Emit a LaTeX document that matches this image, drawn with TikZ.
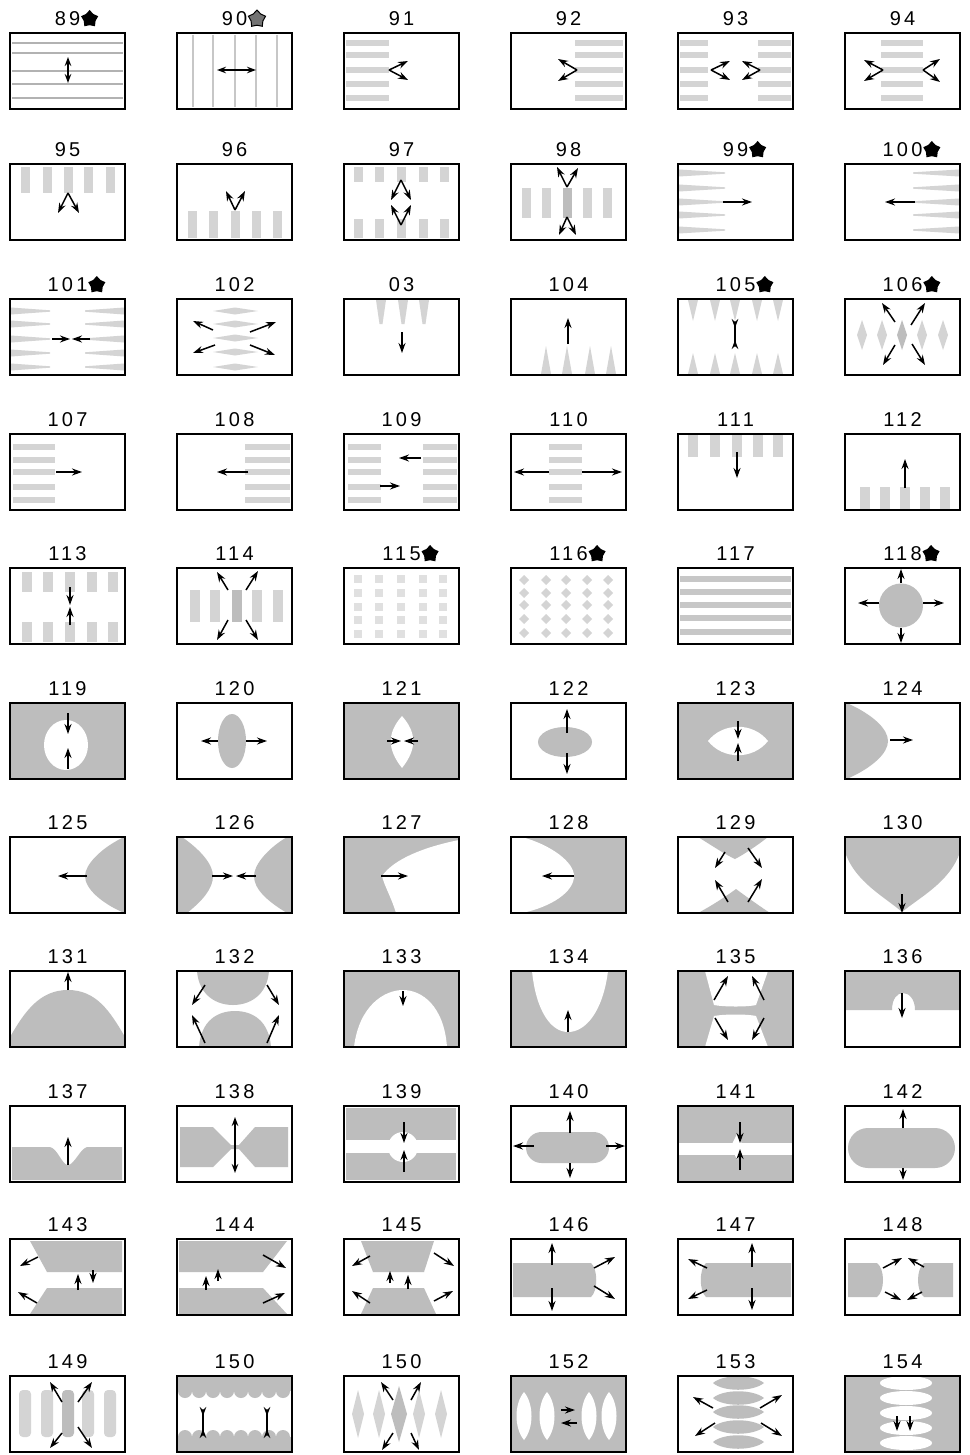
\documentclass[tikz,border=0pt]{standalone}
\usepackage{fontspec}
\newfontfamily\numfont[LetterSpace=16]{Liberation Sans}
\usetikzlibrary{arrows.meta,positioning,shapes.geometric}

\begin{document}
\begin{tikzpicture}[x=1pt,y=-1pt,
  frame/.style={draw=black,line width=1.7pt},
  shd/.style={fill=black!26},
  lite/.style={fill=black!17},
  hole/.style={fill=white},
  mv/.style={line width=1.5pt,-{Stealth[length=10pt,width=7pt]}},
  mvv/.style={line width=1.5pt,{Stealth[length=9pt,width=6.5pt]}-{Stealth[length=9pt,width=6.5pt]}},
  bow/.style={line width=1.5pt,{Stealth[length=9pt,width=6.5pt,reversed]}-{Stealth[length=9pt,width=6.5pt,reversed]}},
  numlab/.style={font=\numfont\fontsize{20}{20}\selectfont,inner sep=0pt},
  starmk/.style={star,star points=5,star point ratio=1.45,minimum size=18pt,inner sep=0pt,fill=black},
  starpat/.style={starmk,fill=black!55,draw=black,line width=1pt},
]
\useasboundingbox[fill=white] (0,0) rectangle (969,1455);

% ---- row 1
\begin{scope}[shift={(10,33)}] % 89
  \foreach \v in {10,20,38,51,65} \draw[black!30,line width=1.5pt] (2,\v) -- (113,\v);
  \draw[mvv] (58,24) -- (58,50);
\end{scope}
\begin{scope}[shift={(177,33)}] % 90
  \foreach \u in {16,36,58,79,100} \draw[black!22,line width=1.5pt] (\u,2) -- (\u,74);
  \draw[mvv] (40,37) -- (79,37);
\end{scope}
\begin{scope}[shift={(344,33)}] % 91
  \foreach \v in {10,22,37,51,65} \fill[lite] (2,\v-3) rectangle (45,\v+3);
  \draw[mv] (45,37) -- (64,28);
  \draw[mv] (45,37) -- (64,47);
\end{scope}
\begin{scope}[shift={(511,33)}] % 92
  \foreach \v in {10,22,37,51,65} \fill[lite] (64,\v-3) rectangle (112,\v+3);
  \draw[mv] (66,37) -- (47,26);
  \draw[mv] (66,37) -- (47,48);
\end{scope}
\begin{scope}[shift={(678,33)}] % 93
  \foreach \v in {10,22,37,51,65} {
    \fill[lite] (2,\v-3) rectangle (30,\v+3);
    \fill[lite] (80,\v-3) rectangle (113,\v+3);
  }
  \draw[mv] (33,37) -- (52,28);
  \draw[mv] (33,37) -- (52,47);
  \draw[mv] (82,37) -- (64,28);
  \draw[mv] (82,37) -- (64,47);
\end{scope}
\begin{scope}[shift={(845,33)}] % 94
  \foreach \v in {10,22,37,51,65} \fill[lite] (36,\v-3) rectangle (78,\v+3);
  \draw[mv] (38,37) -- (19,27);
  \draw[mv] (38,37) -- (19,48);
  \draw[mv] (78,37) -- (95,26);
  \draw[mv] (78,37) -- (95,49);
\end{scope}

% ---- row 2
\begin{scope}[shift={(10,164)}] % 95
  \foreach \u in {15,37,58,78,100} \fill[lite] (\u-4.5,3) rectangle (\u+4.5,29);
  \draw[mv] (58,29) -- (48,49);
  \draw[mv] (58,29) -- (69,49);
\end{scope}
\begin{scope}[shift={(177,164)}] % 96
  \foreach \u in {15,36,58,79,100} \fill[lite] (\u-4.5,47) rectangle (\u+4.5,74);
  \draw[mv] (58,46) -- (49,27);
  \draw[mv] (58,46) -- (68,27);
\end{scope}
\begin{scope}[shift={(344,164)}] % 97
  \foreach \u in {14,35,57,79,100} {
    \fill[lite] (\u-4.5,3) rectangle (\u+4.5,18);
    \fill[lite] (\u-4.5,55) rectangle (\u+4.5,74);
  }
  \draw[mv] (57,16) -- (47,36);
  \draw[mv] (57,16) -- (67,36);
  \draw[mv] (57,61) -- (47,41);
  \draw[mv] (57,61) -- (67,41);
\end{scope}
\begin{scope}[shift={(511,164)}] % 98
  \foreach \u in {15,35,76,96} \fill[lite] (\u-4.5,24) rectangle (\u+4.5,54);
  \fill[shd] (51.5,24) rectangle (60.5,54);
  \draw[mv] (56,23) -- (46,3);
  \draw[mv] (56,23) -- (67,4);
  \draw[mv] (56,53) -- (48,71);
  \draw[mv] (56,53) -- (65,71);
\end{scope}
\begin{scope}[shift={(678,164)}] % 99
  \foreach \v in {9,24,38,51,66} \fill[lite] (1,\v-3.5) -- (47,\v-0.7) -- (47,\v+0.7) -- (1,\v+3.5) -- cycle;
  \draw[mv] (45,38) -- (74,38);
\end{scope}
\begin{scope}[shift={(845,164)}] % 100
  \foreach \v in {9,24,38,51,66} \fill[lite] (114,\v-3.5) -- (68,\v-0.7) -- (68,\v+0.7) -- (114,\v+3.5) -- cycle;
  \draw[mv] (70,38) -- (40,38);
\end{scope}

% ---- row 3
\begin{scope}[shift={(10,299)}] % 101
  \foreach \v in {12,25,40,54,68} {
    \fill[lite] (1,\v-3.5) -- (40,\v-0.7) -- (40,\v+0.7) -- (1,\v+3.5) -- cycle;
    \fill[lite] (114,\v-3.5) -- (75,\v-0.7) -- (75,\v+0.7) -- (114,\v+3.5) -- cycle;
  }
  \draw[mv] (42,40) -- (60,40);
  \draw[mv] (80,40) -- (62,40);
\end{scope}
\begin{scope}[shift={(177,299)}] % 102
  \foreach \v in {12,25,39,53,68} \fill[lite] (36,\v) -- (58,\v-3.5) -- (81,\v) -- (58,\v+3.5) -- cycle;
  \draw[mv] (36,31) -- (16,22);
  \draw[mv] (73,33) -- (99,23);
  \draw[mv] (38,46) -- (16,54);
  \draw[mv] (73,46) -- (98,56);
\end{scope}
\begin{scope}[shift={(344,299)}] % 03
  \foreach \u in {37,59,80} \fill[lite] (\u-5,1) -- (\u+5,1) -- (\u+1.5,25) -- (\u-1.5,25) -- cycle;
  \draw[mv] (58,33) -- (58,54);
\end{scope}
\begin{scope}[shift={(511,299)}] % 104
  \foreach \u in {35,56,79,100} \fill[lite] (\u-5,75) -- (\u+5,75) -- (\u,47) -- cycle;
  \draw[mv] (57,45) -- (57,19);
\end{scope}
\begin{scope}[shift={(678,299)}] % 105
  \foreach \u in {15,37,57,79,100} {
    \fill[lite] (\u-5,1) -- (\u+5,1) -- (\u,22) -- cycle;
    \fill[lite] (\u-5,75) -- (\u+5,75) -- (\u,54) -- cycle;
  }
  \draw[bow] (57,20) -- (57,50);
\end{scope}
\begin{scope}[shift={(845,299)}] % 106
  \foreach \u in {17,37,77,98} \fill[lite] (\u,21) -- (\u+5,36) -- (\u,51) -- (\u-5,36) -- cycle;
  \fill[shd] (57,21) -- (62,36) -- (57,51) -- (52,36) -- cycle;
  \draw[mv] (50,23) -- (37,4);
  \draw[mv] (66,26) -- (80,4);
  \draw[mv] (50,46) -- (38,66);
  \draw[mv] (67,45) -- (80,66);
\end{scope}

% ---- row 4
\begin{scope}[shift={(10,434)}] % 107
  \foreach \v in {13,26,38,53,66} \fill[lite] (3,\v-3) rectangle (45,\v+3);
  \draw[mv] (46,38) -- (72,38);
\end{scope}
\begin{scope}[shift={(177,434)}] % 108
  \foreach \v in {13,26,38,53,66} \fill[lite] (68,\v-3) rectangle (113,\v+3);
  \draw[mv] (71,38) -- (40,38);
\end{scope}
\begin{scope}[shift={(344,434)}] % 109
  \foreach \v in {13,26,38,53,66} {
    \fill[lite] (4,\v-3) rectangle (37,\v+3);
    \fill[lite] (79,\v-3) rectangle (113,\v+3);
  }
  \draw[mv] (77,24) -- (55,24);
  \draw[mv] (36,52) -- (56,52);
\end{scope}
\begin{scope}[shift={(511,434)}] % 110
  \foreach \v in {13,26,38,53,66} \fill[lite] (38,\v-3) rectangle (71,\v+3);
  \draw[mv] (38,38) -- (3,38);
  \draw[mv] (71,38) -- (111,38);
\end{scope}
\begin{scope}[shift={(678,434)}] % 111
  \foreach \u in {15,37,59,80,100} \fill[lite] (\u-5,1) rectangle (\u+5,23);
  \draw[mv] (59,18) -- (59,44);
\end{scope}
\begin{scope}[shift={(845,434)}] % 112
  \foreach \u in {20,40,60,80,100} \fill[lite] (\u-5,53) rectangle (\u+5,75);
  \draw[mv] (60,54) -- (60,25);
\end{scope}

% ---- row 5
\begin{scope}[shift={(10,568)}] % 113
  \foreach \u in {17,38,60,82,103} {
    \fill[lite] (\u-5,4) rectangle (\u+5,24);
    \fill[lite] (\u-5,54) rectangle (\u+5,74);
  }
  \draw[mv] (60,19) -- (60,37);
  \draw[mv] (60,57) -- (60,39);
\end{scope}
\begin{scope}[shift={(177,568)}] % 114
  \foreach \u in {18,38,80,101} \fill[lite] (\u-5,22) rectangle (\u+5,54);
  \fill[shd] (55,22) rectangle (65,54);
  \draw[mv] (51,22) -- (40,4);
  \draw[mv] (69,22) -- (81,3);
  \draw[mv] (51,52) -- (40,72);
  \draw[mv] (69,52) -- (81,72);
\end{scope}
\begin{scope}[shift={(344,568)}] % 115
  \foreach \u in {14,35,57,79,99}
    \foreach \v in {11,25,39,52,66} \fill[black!12] (\u-4,\v-4) rectangle (\u+4,\v+4);
\end{scope}
\begin{scope}[shift={(511,568)}] % 116
  \foreach \u in {13,35,55,76,97}
    \foreach \v in {12,25,37,51,65} \fill[lite] (\u,\v-5) -- (\u+5,\v) -- (\u,\v+5) -- (\u-5,\v) -- cycle;
\end{scope}
\begin{scope}[shift={(678,568)}] % 117
  \foreach \v in {11,24,37,50,64} \fill[black!22] (2,\v-3) rectangle (113,\v+3);
\end{scope}
\begin{scope}[shift={(845,568)}] % 118
  \fill[shd] (56,37.5) circle (22);
  \draw[mv] (56,15) -- (56,1);
  \draw[mv] (78,35) -- (99,35);
  \draw[mv] (34,35) -- (13,35);
  \draw[mv] (56,60) -- (56,75);
\end{scope}

% ---- row 6
\begin{scope}[shift={(10,703)}] % 119
  \fill[shd] (0,0) rectangle (115,76);
  \fill[hole] (56,42) ellipse [x radius=22,y radius=25];
  \draw[mv] (58,10) -- (58,31);
  \draw[mv] (58,66) -- (58,45);
\end{scope}
\begin{scope}[shift={(177,703)}] % 120
  \fill[shd] (55,38) ellipse [x radius=14,y radius=27];
  \draw[mv] (41,38) -- (24,38);
  \draw[mv] (69,38) -- (90,38);
\end{scope}
\begin{scope}[shift={(344,703)}] % 121
  \fill[shd] (0,0) rectangle (115,76);
  \fill[hole] (58,13) .. controls (73,30) and (73,46) .. (58,65) .. controls (43,46) and (43,30) .. (58,13);
  \draw[mv] (43,38) -- (57,38);
  \draw[mv] (74,38) -- (60,38);
\end{scope}
\begin{scope}[shift={(511,703)}] % 122
  \fill[shd] (54,39) ellipse [x radius=27,y radius=15];
  \draw[mv] (56,30) -- (56,6);
  \draw[mv] (56,50) -- (56,71);
\end{scope}
\begin{scope}[shift={(678,703)}] % 123
  \fill[shd] (0,0) rectangle (115,76);
  \fill[hole] (30,38) .. controls (45,19) and (75,19) .. (90,38) .. controls (75,57) and (45,57) .. (30,38);
  \draw[mv] (60,18) -- (60,36);
  \draw[mv] (60,58) -- (60,40);
\end{scope}
\begin{scope}[shift={(845,703)}] % 124
  \fill[shd] (0,1) -- (4,1) .. controls (28,12) and (43,26) .. (43,38) .. controls (43,50) and (28,64) .. (4,75) -- (0,75) -- cycle;
  \draw[mv] (45,37) -- (68,37);
\end{scope}

% ---- row 7
\begin{scope}[shift={(10,837)}] % 125
  \fill[shd] (115,1) -- (112,1) .. controls (90,12) and (75,28) .. (75,39) .. controls (75,52) and (92,66) .. (112,75) -- (115,75) -- cycle;
  \draw[mv] (77,39) -- (48,39);
\end{scope}
\begin{scope}[shift={(177,837)}] % 126
  \fill[shd] (0,0) -- (5,0) .. controls (25,14) and (36,28) .. (36,39) .. controls (36,52) and (25,64) .. (10,76) -- (0,76) -- cycle;
  \fill[shd] (115,0) -- (110,0) .. controls (90,12) and (77,28) .. (77,39) .. controls (77,52) and (90,64) .. (110,76) -- (115,76) -- cycle;
  \draw[mv] (35,39) -- (56,39);
  \draw[mv] (79,39) -- (59,39);
\end{scope}
\begin{scope}[shift={(344,837)}] % 127
  \fill[shd] (0,0) rectangle (115,76);
  \fill[hole] (38,39) .. controls (50,22) and (80,10) .. (115,3) -- (115,76) -- (52,76) .. controls (48,62) and (40,48) .. (38,39);
  \draw[mv] (37,39) -- (64,39);
\end{scope}
\begin{scope}[shift={(511,837)}] % 128
  \fill[shd] (0,0) rectangle (115,76);
  \fill[hole] (0,0) -- (11,0) .. controls (40,8) and (63,25) .. (63,39) .. controls (63,55) and (40,70) .. (11,76) -- (0,76) -- cycle;
  \draw[mv] (63,39) -- (31,39);
\end{scope}
\begin{scope}[shift={(678,837)}] % 129
  \fill[shd] (20,0) -- (90,0) .. controls (80,8) and (65,18) .. (57,22) .. controls (48,18) and (33,8) .. (20,0);
  \fill[shd] (20,76) -- (92,76) .. controls (80,68) and (66,58) .. (58,52) .. controls (50,58) and (35,68) .. (20,76);
  \draw[mv] (47,15) -- (37,31);
  \draw[mv] (70,11) -- (84,31);
  \draw[mv] (50,65) -- (37,43);
  \draw[mv] (70,65) -- (84,42);
\end{scope}
\begin{scope}[shift={(845,837)}] % 130
  \fill[shd] (0,0) -- (115,0) -- (115,15) .. controls (105,45) and (75,60) .. (57,75) .. controls (40,60) and (10,45) .. (0,15) -- cycle;
  \draw[mv] (57,57) -- (57,76);
\end{scope}

% ---- row 8
\begin{scope}[shift={(10,971)}] % 131
  \fill[shd] (0,76) -- (0,66) .. controls (15,40) and (30,19) .. (58,19) .. controls (86,19) and (100,40) .. (115,66) -- (115,76) -- cycle;
  \draw[mv] (58,19) -- (58,1);
\end{scope}
\begin{scope}[shift={(177,971)}] % 132
  \fill[shd] (20,0) .. controls (22,25) and (40,34) .. (56,34) .. controls (72,34) and (90,25) .. (92,0) -- cycle;
  \fill[shd] (22,76) .. controls (24,50) and (40,40) .. (58,40) .. controls (76,40) and (92,50) .. (94,76) -- cycle;
  \draw[mv] (28,14) -- (15,34);
  \draw[mv] (90,14) -- (102,34);
  \draw[mv] (28,72) -- (15,44);
  \draw[mv] (90,72) -- (102,44);
\end{scope}
\begin{scope}[shift={(344,971)}] % 133
  \fill[shd] (0,0) rectangle (115,76);
  \fill[hole] (10,76) .. controls (15,35) and (40,19) .. (59,19) .. controls (78,19) and (100,35) .. (103,76) -- cycle;
  \draw[mv] (59,20) -- (59,35);
\end{scope}
\begin{scope}[shift={(511,971)}] % 134
  \fill[shd] (0,0) rectangle (115,76);
  \fill[hole] (21,0) .. controls (25,40) and (40,61) .. (57,61) .. controls (75,61) and (92,40) .. (97,0) -- cycle;
  \draw[mv] (57,61) -- (57,39);
\end{scope}
\begin{scope}[shift={(678,971)}] % 135
  \fill[shd] (0,0) rectangle (115,76);
  \fill[hole] (27,0) -- (90,0) -- (78,34) .. controls (70,36) and (46,36) .. (36,34) -- cycle;
  \fill[hole] (27,76) -- (90,76) -- (78,45) .. controls (70,43) and (46,43) .. (36,45) -- cycle;
  \draw[mv] (36,29) -- (50,5);
  \draw[mv] (86,29) -- (74,5);
  \draw[mv] (37,47) -- (50,69);
  \draw[mv] (86,47) -- (74,69);
\end{scope}
\begin{scope}[shift={(845,971)}] % 136
  \fill[shd] (1,1) -- (114,1) -- (114,39) -- (70,39) .. controls (70,28) and (64,22) .. (58,22) .. controls (52,22) and (47,28) .. (47,39) -- (1,39) -- cycle;
  \draw[mv] (57,22) -- (57,47);
\end{scope}

% ---- row 9
\begin{scope}[shift={(10,1106)}] % 137
  \fill[shd] (2,41) -- (40,41) .. controls (48,43) and (52,59) .. (58,59) .. controls (64,59) and (70,43) .. (77,41) -- (112,41) -- (112,74) -- (2,74) -- cycle;
  \draw[mv] (58,59) -- (58,31);
\end{scope}
\begin{scope}[shift={(177,1106)}] % 138
  \fill[shd] (3,21) -- (36,21) -- (54,39) -- (62,39) -- (78,21) -- (111,21) -- (111,61) -- (78,61) -- (62,43) -- (54,43) -- (36,61) -- (3,61) -- cycle;
  \draw[mvv] (58,11) -- (58,67);
\end{scope}
\begin{scope}[shift={(344,1106)}] % 139
  \fill[shd] (2,2) rectangle (112,34);
  \fill[shd] (2,47) rectangle (112,74);
  \fill[hole] (59,41) circle (15);
  \draw[mv] (60,16) -- (60,37);
  \draw[mv] (60,66) -- (60,44);
\end{scope}
\begin{scope}[shift={(511,1106)}] % 140
  \fill[shd,rounded corners=15.5pt] (15,26) rectangle (98,57);
  \draw[mv] (59,27) -- (59,5);
  \draw[mv] (59,57) -- (59,72);
  \draw[mv] (23,40) -- (2,40);
  \draw[mv] (95,40) -- (114,40);
\end{scope}
\begin{scope}[shift={(678,1106)}] % 141
  \fill[shd] (0,0) rectangle (115,76);
  \fill[hole] (1,37) rectangle (114,49);
  \fill[hole] (59,28) -- (65,40) -- (59,54) -- (53,40) -- cycle;
  \draw[mv] (62,16) -- (62,37);
  \draw[mv] (62,64) -- (62,43);
\end{scope}
\begin{scope}[shift={(845,1106)}] % 142
  \fill[shd,rounded corners=20pt] (3,22) rectangle (110,62);
  \draw[mv] (58,22) -- (58,3);
  \draw[mv] (58,62) -- (58,74);
\end{scope}

% ---- row 10
\begin{scope}[shift={(10,1239)}] % 143
  \fill[shd] (20,2) -- (112,2) -- (112,33) -- (37,33) -- cycle;
  \fill[shd] (37,49) -- (112,49) -- (112,75) -- (20,75) -- cycle;
  \draw[mv] (28,18) -- (10,27);
  \draw[mv] (27,64) -- (8,53);
  \draw[mv] (68,51) -- (68,35);
  \draw[mv] (83,31) -- (83,44);
\end{scope}
\begin{scope}[shift={(177,1239)}] % 144
  \fill[shd] (2,2) -- (110,2) -- (86,33) -- (2,33) -- cycle;
  \fill[shd] (2,49) -- (86,49) -- (110,75) -- (2,75) -- cycle;
  \draw[mv] (86,16) -- (109,29);
  \draw[mv] (86,64) -- (108,54);
  \draw[mv] (29,51) -- (29,37);
  \draw[mv] (41,42) -- (41,30);
\end{scope}
\begin{scope}[shift={(344,1239)}] % 145
  \fill[shd] (17,2) -- (90,2) -- (80,33) -- (29,33) -- cycle;
  \fill[shd] (29,49) -- (80,49) -- (92,75) -- (17,75) -- cycle;
  \draw[mv] (26,17) -- (8,27);
  \draw[mv] (90,14) -- (110,27);
  \draw[mv] (26,64) -- (8,52);
  \draw[mv] (90,62) -- (109,52);
  \draw[mv] (46,44) -- (46,32);
  \draw[mv] (64,50) -- (64,36);
\end{scope}
\begin{scope}[shift={(511,1239)}] % 146
  \fill[shd] (2,24) -- (80,24) .. controls (87,30) and (87,52) .. (80,58) -- (2,58) -- cycle;
  \draw[mv] (41,26) -- (41,4);
  \draw[mv] (41,49) -- (41,72);
  \draw[mv] (83,29) -- (104,18);
  \draw[mv] (83,47) -- (104,60);
\end{scope}
\begin{scope}[shift={(678,1239)}] % 147
  \fill[shd] (113,24) -- (28,24) .. controls (21,30) and (21,52) .. (28,58) -- (113,58) -- cycle;
  \draw[mv] (74,28) -- (74,4);
  \draw[mv] (74,49) -- (74,71);
  \draw[mv] (29,29) -- (10,20);
  \draw[mv] (29,51) -- (10,60);
\end{scope}
\begin{scope}[shift={(845,1239)}] % 148
  \fill[shd] (3,24) -- (32,24) .. controls (40,30) and (40,52) .. (32,58) -- (3,58) -- cycle;
  \fill[shd] (108,24) -- (79,24) .. controls (71,30) and (71,52) .. (79,58) -- (108,58) -- cycle;
  \draw[mv] (38,29) -- (57,19);
  \draw[mv] (79,28) -- (63,19);
  \draw[mv] (40,53) -- (56,61);
  \draw[mv] (77,53) -- (62,61);
\end{scope}

% ---- row 11
\begin{scope}[shift={(10,1376)}] % 149
  \foreach \u in {15,37,78,100} \fill[lite,rounded corners=4pt] (\u-6,14) rectangle (\u+6,61);
  \fill[shd,rounded corners=4pt] (52,14) rectangle (64,61);
  \draw[mv] (52,26) -- (40,6);
  \draw[mv] (68,26) -- (82,6);
  \draw[mv] (52,57) -- (40,72);
  \draw[mv] (68,51) -- (82,72);
\end{scope}
\begin{scope}[shift={(177,1376)}] % 150
  \fill[shd] (1,1) rectangle (114,15);
  \fill[shd] (1,61) rectangle (114,75);
  \foreach \u in {8,22,36,50,64,78,92,106} {
    \fill[shd] (\u,15) circle (7);
    \fill[shd] (\u,61) circle (7);
  }
  \draw[bow] (26,31) -- (26,62);
  \draw[bow] (90,31) -- (90,62);
\end{scope}
\begin{scope}[shift={(344,1376)}] % 150
  \foreach \u in {14,35,75,97} \fill[lite] (\u,14) -- (\u+6,38) -- (\u,62) -- (\u-6,38) -- cycle;
  \fill[shd] (55,10) -- (63,38) -- (55,66) -- (47,38) -- cycle;
  \draw[mv] (49,24) -- (37,6);
  \draw[mv] (67,24) -- (77,6);
  \draw[mv] (49,57) -- (38,74);
  \draw[mv] (67,57) -- (75,74);
\end{scope}
\begin{scope}[shift={(511,1376)}] % 152
  \fill[shd] (0,0) rectangle (115,76);
  \foreach \u in {13,36,78,98} \fill[hole] (\u,16) .. controls (\u+10,28) and (\u+10,52) .. (\u,64) .. controls (\u-10,52) and (\u-10,28) .. (\u,16);
  \draw[mv] (50,34) -- (64,34);
  \draw[mv] (66,47) -- (50,47);
\end{scope}
\begin{scope}[shift={(678,1376)}] % 153
  \foreach \v in {7,22,36,51,66} \fill[shd] (35,\v) .. controls (45,\v-9) and (75,\v-9) .. (86,\v) .. controls (75,\v+9) and (45,\v+9) .. (35,\v);
  \draw[mv] (35,32) -- (15,21);
  \draw[mv] (82,32) -- (104,19);
  \draw[mv] (37,47) -- (17,60);
  \draw[mv] (83,47) -- (104,60);
\end{scope}
\begin{scope}[shift={(845,1376)}] % 154
  \fill[shd] (0,0) rectangle (115,76);
  \foreach \v in {7,22,37,52,67} \fill[hole] (61,\v) ellipse [x radius=26,y radius=7];
  \draw[mv] (52,40) -- (52,55);
  \draw[mv] (65,40) -- (65,55);
\end{scope}

% frames, numbers and marks
\foreach \x/\y/\t/\s [count=\i] in {
  10/33/89/1, 177/33/90/2, 344/33/91/0, 511/33/92/0, 678/33/93/0, 845/33/94/0,
  10/164/95/0, 177/164/96/0, 344/164/97/0, 511/164/98/0, 678/164/99/1, 845/164/100/1,
  10/299/101/1, 177/299/102/0, 344/299/03/0, 511/299/104/0, 678/299/105/1, 845/299/106/1,
  10/434/107/0, 177/434/108/0, 344/434/109/0, 511/434/110/0, 678/434/111/0, 845/434/112/0,
  10/568/113/0, 177/568/114/0, 344/568/115/1, 511/568/116/1, 678/568/117/0, 845/568/118/1,
  10/703/119/0, 177/703/120/0, 344/703/121/0, 511/703/122/0, 678/703/123/0, 845/703/124/0,
  10/837/125/0, 177/837/126/0, 344/837/127/0, 511/837/128/0, 678/837/129/0, 845/837/130/0,
  10/971/131/0, 177/971/132/0, 344/971/133/0, 511/971/134/0, 678/971/135/0, 845/971/136/0,
  10/1106/137/0, 177/1106/138/0, 344/1106/139/0, 511/1106/140/0, 678/1106/141/0, 845/1106/142/0,
  10/1239/143/0, 177/1239/144/0, 344/1239/145/0, 511/1239/146/0, 678/1239/147/0, 845/1239/148/0,
  10/1376/149/0, 177/1376/150/0, 344/1376/150/0, 511/1376/152/0, 678/1376/153/0, 845/1376/154/0}{
  \draw[frame] (\x,\y) rectangle ++(115,76);
  \node[numlab] (lab\i) at (\x+57.5,\y-14) {\t};
  \ifnum\s=1 \node[starmk,right=2pt of lab\i] (mk\i) {}; \fi
  \ifnum\s=2 \node[starpat,right=2pt of lab\i] (mk\i) {}; \fi
}
\end{tikzpicture}
\end{document}
